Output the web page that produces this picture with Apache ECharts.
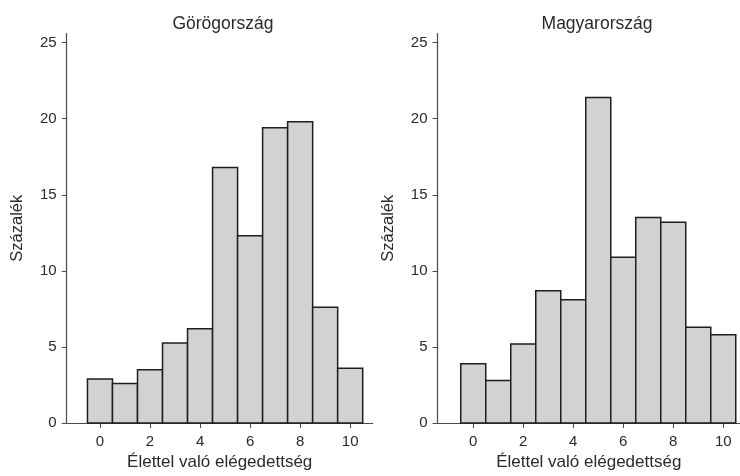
<!DOCTYPE html>
<html>
<head>
<meta charset="utf-8">
<script src="https://cdn.jsdelivr.net/npm/echarts@6/dist/echarts.min.js"></script>
<style>
html,body{margin:0;padding:0;background:#fff;}
#chart{width:740px;height:476px;}
</style>
</head>
<body>
<div id="chart"></div>
<script>
const categories = [0, 1, 2, 3, 4, 5, 6, 7, 8, 9, 10];
const greece = [2.9, 2.6, 3.5, 5.25, 6.2, 16.8, 12.3, 19.4, 19.8, 7.6, 3.6];
const hungary = [3.9, 2.8, 5.2, 8.7, 8.1, 21.4, 10.9, 13.5, 13.2, 6.3, 5.8];
const titles = ['Görögország', 'Magyarország'];
const xTicks = [0, 2, 4, 6, 8, 10];
const yTicks = [0, 5, 10, 15, 20, 25];
const xName = 'Élettel való elégedettség';
const yName = 'Százalék';

const FONT = '"Liberation Sans", Arial, sans-serif';
const TXT = '#2a2a2a';
const chart = echarts.init(document.getElementById('chart'), null, {renderer: 'canvas'});

function renderBar(params, api) {
  const x = api.value(0), y = api.value(1);
  const p0 = api.coord([x - 0.5, y]);
  const p1 = api.coord([x + 0.5, 0]);
  return {
    type: 'rect',
    shape: {x: p0[0], y: p0[1], width: p1[0] - p0[0], height: p1[1] - p0[1]},
    style: {fill: '#d2d2d2', stroke: '#1e1e1e', lineWidth: 1.5}
  };
}

const grids = [
  {left: 66.7, right: 367.3, top: 33.5, bottom: 49.3},
  {left: 437.5, right: 0, top: 33.5, bottom: 49.3}
];
const xRanges = [[-1.33, 10.9], [-1.43, 10.67]];

const xAxes = grids.map((g, i) => ({
  type: 'value', gridIndex: i, min: xRanges[i][0], max: xRanges[i][1],
  splitLine: {show: false},
  axisLine: {show: true, onZero: false, lineStyle: {color: '#4a4a4a', width: 1.2}},
  axisTick: {show: true, length: 5, customValues: xTicks, lineStyle: {color: '#4a4a4a'}},
  axisLabel: {customValues: xTicks, color: TXT, fontSize: 15, fontFamily: FONT, margin: 11},
  name: xName, nameLocation: 'middle', nameGap: 31,
  nameTextStyle: {color: TXT, fontSize: 17, fontFamily: FONT}
}));
const yAxes = grids.map((g, i) => ({
  type: 'value', gridIndex: i, min: 0, max: 25.6,
  splitLine: {show: false},
  axisLine: {show: true, onZero: false, lineStyle: {color: '#4a4a4a', width: 1.2}},
  axisTick: {show: true, length: 5, customValues: yTicks, lineStyle: {color: '#4a4a4a'}},
  axisLabel: {customValues: yTicks, color: TXT, fontSize: 15, fontFamily: FONT, margin: 10},
  name: yName, nameLocation: 'middle', nameGap: 41, nameRotate: 90,
  nameTextStyle: {color: TXT, fontSize: 16.5, fontFamily: FONT}
}));

const seriesData = [greece, hungary];
chart.setOption({
  animation: false,
  backgroundColor: '#fff',
  title: titles.map((t, i) => ({
    text: t, left: i === 0 ? 218 : 592, top: 10, textAlign: 'center',
    textStyle: {color: TXT, fontSize: 17.5, fontWeight: 'normal', fontFamily: FONT}
  })),
  grid: grids,
  xAxis: xAxes,
  yAxis: yAxes,
  series: seriesData.map((d, i) => ({
    type: 'custom', xAxisIndex: i, yAxisIndex: i,
    renderItem: renderBar,
    encode: {x: 0, y: 1},
    data: categories.map((c, k) => [c, d[k]])
  }))
});
</script>
</body>
</html>
